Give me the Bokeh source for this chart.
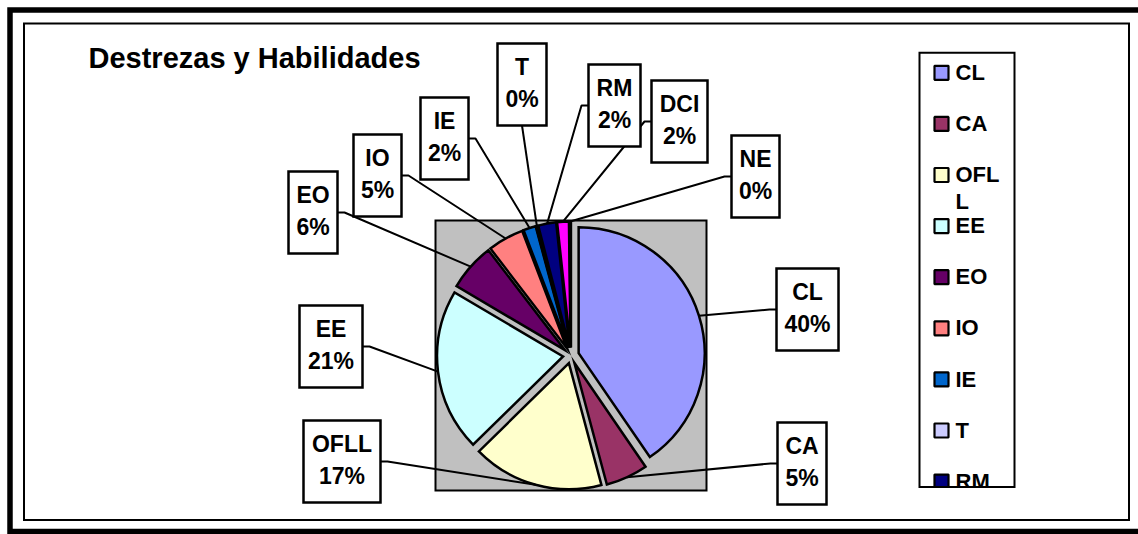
import math
from bokeh.plotting import figure
from bokeh.models import Range1d, ColumnDataSource
from bokeh.embed import file_html
from bokeh.resources import INLINE
from bokeh.core.properties import value

# ---------------- data ----------------
title_text = "Destrezas y Habilidades"
names = ["CL", "CA", "OFLL", "EE", "EO", "IO", "IE", "T", "RM", "DCI", "NE"]
values = [40.4, 5.4, 16.8, 20.8, 6.1, 4.6, 1.6, 0.2, 2.3, 1.5, 0.2]
colors = ["#9999FF", "#993366", "#FFFFCC", "#CCFFFF", "#660066", "#FF8080",
          "#0066CC", "#CCCCFF", "#000080", "#FF00FF", "#FFFF00"]

# ---------------- layout (pixel positions in the page) ----------------
W, H = 1138, 534
OX, OY = 0, 0


def X(ix):
    return ix - OX


def Y(iy):
    return H - (iy - OY)


def BL(iy, size):
    # alphabetic baseline correction for the svg text renderer
    return Y(iy - 0.37 * size)


FONT = value("Liberation Sans")
PIE_CX, PIE_CY = 570.5, 355.0
PIE_R, PIE_E = 126.0, 8.0
BOX_H = 82
# label boxes: left, top, width, side where the leader starts
label_layout = {
    "CL": (776, 268, 62, "L"),
    "CA": (777, 422, 49, "L"),
    "OFLL": (303, 420, 77, "R"),
    "EE": (299, 305, 63, "R"),
    "EO": (288, 171, 49, "R"),
    "IO": (353, 134, 48, "R"),
    "IE": (420, 97, 48, "R"),
    "T": (497, 43, 49, "B"),
    "RM": (588, 64, 52, "L"),
    "DCI": (651, 80, 56, "L"),
    "NE": (731, 135, 48, "L"),
}

p = figure(width=W, height=H, x_range=Range1d(0, W), y_range=Range1d(0, H),
           output_backend="svg", toolbar_location=None, min_border=0,
           x_axis_type=None, y_axis_type=None,
           background_fill_color="white", border_fill_color="white",
           outline_line_color=None)
p.grid.visible = False

# outer thick frame and inner chart-area frame
p.quad(left=[X(9.5)], right=[X(1145)], top=[Y(9.5)], bottom=[Y(531)],
       fill_color=None, line_color="black", line_width=5.5, line_join="miter")
p.quad(left=[X(23.5)], right=[X(1128.5)], top=[Y(23)], bottom=[Y(519.5)],
       fill_color=None, line_color="black", line_width=2, line_join="miter")

# title
p.text(x=[X(88)], y=[BL(68, 29)], text=[title_text], text_font=FONT,
       text_font_style="bold", text_font_size="29px",
       text_align="left", text_baseline="alphabetic", text_color="black")

# plot area (gray)
p.quad(left=[X(435)], right=[X(706)], top=[Y(220)], bottom=[Y(490)],
       fill_color="#C0C0C0", line_color="black", line_width=2, line_join="miter")

# pie (exploded, clockwise from 12 o'clock)
total = float(sum(values))
cx, cy = X(PIE_CX), Y(PIE_CY)
sa, ea, wx, wy, mids = [], [], [], [], []
cum = 0.0
for v in values:
    a0 = 2 * math.pi * cum / total
    cum += v
    a1 = 2 * math.pi * cum / total
    mid = (a0 + a1) / 2
    mids.append(mid)
    sa.append(math.pi / 2 - a1)
    ea.append(math.pi / 2 - a0)
    wx.append(cx + PIE_E * math.sin(mid))
    wy.append(cy + PIE_E * math.cos(mid))

src = ColumnDataSource(dict(x=wx, y=wy, sa=sa, ea=ea, color=colors, name=names))
p.wedge(x="x", y="y", radius=PIE_R, start_angle="sa", end_angle="ea",
        direction="anticlock", fill_color="color", line_color="black",
        line_width=2.5, line_join="miter", source=src)

# leaders, label boxes, label texts
pcts = ["%d%%" % int(100.0 * v / total + 0.5) for v in values]
lx, ly = [], []
bl, br, bt, bb, tx, ty1, ty2 = [], [], [], [], [], [], []
for name, mid in zip(names, mids):
    left, top, width, side = label_layout[name]
    px = cx + (PIE_R + PIE_E) * math.sin(mid)
    py = cy + (PIE_R + PIE_E) * math.cos(mid)
    midy = top + BOX_H / 2
    if side == "L":
        pts = [(X(left), Y(midy)), (X(left - 7), Y(midy)), (px, py)]
    elif side == "R":
        pts = [(X(left + width), Y(midy)), (X(left + width + 7), Y(midy)), (px, py)]
    else:
        pts = [(X(left + width / 2), Y(top + BOX_H)), (px, py)]
    lx.append([q[0] for q in pts])
    ly.append([q[1] for q in pts])
    bl.append(X(left))
    br.append(X(left + width))
    bt.append(Y(top))
    bb.append(Y(top + BOX_H))
    tx.append(X(left + width / 2))
    ty1.append(BL(top + 32, 23))
    ty2.append(BL(top + 64.5, 23))

p.multi_line(xs=lx, ys=ly, line_color="black", line_width=2)
p.quad(left=bl, right=br, top=bt, bottom=bb, fill_color="white",
       line_color="black", line_width=2.5, line_join="miter")
p.text(x=tx, y=ty1, text=names, text_font=FONT, text_font_style="bold",
       text_font_size="23px", text_align="center", text_baseline="alphabetic")
p.text(x=tx, y=ty2, text=pcts, text_font=FONT, text_font_style="bold",
       text_font_size="23px", text_align="center", text_baseline="alphabetic")

# legend (clipped at its bottom edge like the original)
LEG_L, LEG_R, LEG_T, LEG_B = 919, 1014, 52.3, 486.5
p.quad(left=[X(LEG_L)], right=[X(LEG_R)], top=[Y(LEG_T)], bottom=[Y(LEG_B)],
       fill_color="white", line_color=None)
sq_x, sq_y, sq_c, t_x, t_y1, t_y2, t1, t2 = [], [], [], [], [], [], [], []
for i, (name, col) in enumerate(zip(names, colors)):
    yc = 72.3 + 51.1 * i
    if yc - 8 > LEG_B:
        continue
    sq_x.append(X(941))
    sq_y.append(Y(yc))
    sq_c.append(col)
    t_x.append(X(955))
    t_y1.append(BL(yc + 7.8, 22))
    t_y2.append(BL(yc + 7.8 + 26.7, 22))
    t1.append(name[:3])
    t2.append(name[3:])
p.rect(x=sq_x, y=sq_y, width=14, height=14, fill_color=sq_c,
       line_color="black", line_width=2.2)
p.text(x=t_x, y=t_y1, text=t1, text_font=FONT, text_font_style="bold",
       text_font_size="22px", text_align="left", text_baseline="alphabetic")
p.text(x=t_x, y=t_y2, text=t2, text_font=FONT, text_font_style="bold",
       text_font_size="22px", text_align="left", text_baseline="alphabetic")
p.quad(left=[X(LEG_L - 2)], right=[X(LEG_R + 2)], top=[Y(LEG_B)], bottom=[Y(510)],
       fill_color="white", line_color=None)
p.quad(left=[X(LEG_L)], right=[X(LEG_R)], top=[Y(LEG_T)], bottom=[Y(LEG_B)],
       fill_color=None, line_color="black", line_width=2, line_join="miter")

open("out.html", "w").write(file_html(p, INLINE))
